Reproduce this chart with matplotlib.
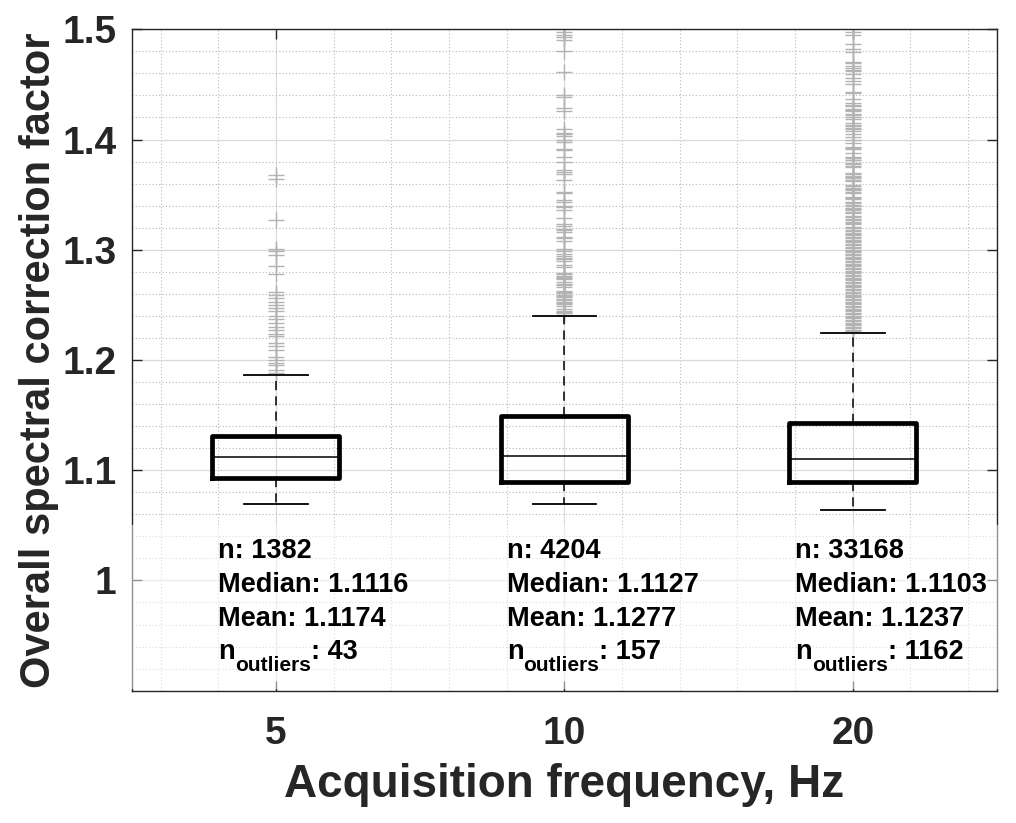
import matplotlib
matplotlib.use("Agg")
import matplotlib.pyplot as plt
from matplotlib.patches import Rectangle
from matplotlib.ticker import MultipleLocator
from matplotlib.transforms import offset_copy

plt.rcParams['font.family'] = ['Liberation Sans', 'DejaVu Sans']
plt.rcParams['font.weight'] = 'bold'

# Box statistics
freq_labels = ['5', '10', '20']
q1 = [1.0933, 1.0894, 1.0894]
q3 = [1.1309, 1.1496, 1.1430]
medians = [1.1116, 1.1127, 1.1103]
whis_lo = [1.0691, 1.0691, 1.0642]
whis_hi = [1.1866, 1.2400, 1.2248]

# Summary text
n_total = [1382, 4204, 33168]
median_txt = ['1.1116', '1.1127', '1.1103']
mean_txt = ['1.1174', '1.1277', '1.1237']
n_outliers = [43, 157, 1162]

# Visible outliers (many overlap, so only distinct marks are listed)
out_5hz = [1.3675, 1.3645, 1.3273, 1.3009, 1.2990, 1.2950, 1.2850, 1.2780,
           1.2620, 1.2590, 1.2560, 1.2530, 1.2500, 1.2470, 1.2440, 1.2400,
           1.2370, 1.2340, 1.2300, 1.2270, 1.2240, 1.2215, 1.2151, 1.2127,
           1.2087, 1.2024, 1.2000, 1.1975, 1.1951, 1.1905, 1.1882]

out_10hz = [1.4972, 1.4951, 1.4927, 1.4903, 1.4800, 1.4612, 1.4406, 1.4382,
            1.4282, 1.4257, 1.4100, 1.4063, 1.4051, 1.4030, 1.4000, 1.3982,
            1.3912, 1.3903, 1.3845, 1.3800, 1.3724, 1.3706, 1.3688, 1.3636,
            1.3521, 1.3515, 1.3448, 1.3430, 1.3400, 1.3388, 1.3363, 1.3288,
            1.3236, 1.3218, 1.3191, 1.3176, 1.3161, 1.3118, 1.3109, 1.3076,
            1.3006, 1.2988, 1.2957, 1.2945, 1.2927, 1.2912, 1.2894, 1.2860,
            1.2839,
            1.2788, 1.2776, 1.2764, 1.2752, 1.2741, 1.2733,
            1.2703, 1.2691, 1.2678, 1.2666,
            1.2630, 1.2618, 1.2605, 1.2593, 1.2580, 1.2568, 1.2555, 1.2543,
            1.2530, 1.2518, 1.2505, 1.2491,
            1.2460, 1.2448, 1.2436, 1.2424, 1.2412]

out_20hz = [1.4972, 1.4951, 1.4863, 1.4818, 1.4794, 1.4706, 1.4691, 1.4669,
            1.4648, 1.4633, 1.4618, 1.4597, 1.4554, 1.4533, 1.4503,
            1.4430, 1.4424, 1.4366, 1.4330, 1.4315, 1.4303,
            1.4279, 1.4270, 1.4260, 1.4236, 1.4221, 1.4203, 1.4188, 1.4154,
            1.4136, 1.4121, 1.4103, 1.4091, 1.4079, 1.4048, 1.4024, 1.4000,
            1.3969, 1.3933, 1.3925, 1.3915, 1.3879,
            1.3842, 1.3830, 1.3818, 1.3812,
            1.3788, 1.3776, 1.3764, 1.3751,
            1.3697, 1.3685, 1.3672, 1.3660, 1.3647, 1.3634, 1.3621,
            1.3588, 1.3576, 1.3564, 1.3551, 1.3539, 1.3527, 1.3515,
            1.3476, 1.3466, 1.3460,
            1.3433, 1.3421, 1.3408, 1.3396, 1.3383, 1.3371, 1.3358, 1.3346, 1.3333,
            1.3306, 1.3293, 1.3281, 1.3268, 1.3256, 1.3243, 1.3230,
            1.3206, 1.3193, 1.3181, 1.3168, 1.3155, 1.3142, 1.3130, 1.3117,
            1.3104, 1.3091, 1.3079, 1.3066, 1.3053, 1.3040, 1.3028, 1.3015,
            1.3002, 1.2989, 1.2977, 1.2964, 1.2951, 1.2938, 1.2926, 1.2913,
            1.2900, 1.2887, 1.2875, 1.2862, 1.2849, 1.2836, 1.2824, 1.2811,
            1.2798, 1.2785, 1.2773, 1.2760, 1.2747, 1.2734, 1.2722, 1.2709,
            1.2696, 1.2683, 1.2671, 1.2658, 1.2645, 1.2632, 1.2620, 1.2607,
            1.2594, 1.2581, 1.2569, 1.2556, 1.2543, 1.2530, 1.2518, 1.2505,
            1.2492, 1.2479, 1.2467, 1.2454, 1.2441, 1.2428, 1.2416, 1.2403,
            1.2390, 1.2377, 1.2365, 1.2352, 1.2339, 1.2326, 1.2314, 1.2301,
            1.2288, 1.2275, 1.2263]

outliers = [out_5hz, out_10hz, out_20hz]

stats = []
for i in range(3):
    stats.append({'q1': q1[i], 'q3': q3[i], 'med': medians[i],
                  'whislo': whis_lo[i], 'whishi': whis_hi[i],
                  'fliers': outliers[i], 'label': freq_labels[i]})

fig = plt.figure(figsize=(10.16, 8.23), dpi=100)
ax = fig.add_axes([0.1296, 0.1608, 0.8517, 0.8036])

ax.bxp(stats, positions=[1, 2, 3], widths=0.44, showfliers=True,
       boxprops=dict(color='black', linewidth=3.4),
       medianprops=dict(color='black', linewidth=1.1),
       whiskerprops=dict(color='black', linewidth=1.1, linestyle=(0, (6, 4))),
       capprops=dict(color='black', linewidth=1.3),
       flierprops=dict(marker='+', markersize=12.2, markeredgecolor='#b3b3b3',
                       markeredgewidth=1.0, linestyle='none', zorder=1.9))

ax.set_xlim(0.5, 3.5)
ax.set_ylim(0.9, 1.5)
ax.set_yticks([1.0, 1.1, 1.2, 1.3, 1.4, 1.5])
ax.set_yticklabels(['1', '1.1', '1.2', '1.3', '1.4', '1.5'])
ax.set_xticks([1, 2, 3])
ax.set_xticklabels(freq_labels)
ax.xaxis.set_minor_locator(MultipleLocator(0.2))
ax.yaxis.set_minor_locator(MultipleLocator(0.02))

ax.set_axisbelow(True)
ax.grid(True, which='major', color='#dadada', linewidth=0.9, linestyle='-')
ax.grid(True, which='minor', color='#b8b8b8', linewidth=0.8, linestyle=(0, (1, 2)))

ax.tick_params(which='major', direction='in', length=7, width=1.0,
               top=True, right=True, labelsize=28, colors='#262626', pad=11)
ax.tick_params(axis='x', which='major', pad=18)
ax.tick_params(which='minor', length=0)
for sp in ax.spines.values():
    sp.set_color('#262626')
    sp.set_linewidth(1.0)

ax.set_xlabel('Acquisition frequency, Hz', fontsize=33, fontweight='bold',
              color='#262626', labelpad=8)
ax.set_ylabel('Overall spectral correction factor', fontsize=30, fontweight='bold',
              color='#262626', labelpad=2)

# translucent white band behind the summary text
ax.add_patch(Rectangle((-0.003, 0.002), 1.006, 0.2488, transform=ax.transAxes,
                       facecolor='white', alpha=0.5, edgecolor='none',
                       zorder=2.6, clip_on=False))

renderer = fig.canvas.get_renderer()
for i, pos in enumerate([1, 2, 3]):
    x = pos - 0.2
    ax.text(x, 1.0205, 'n: %d' % n_total[i], fontsize=19.5, color='black', zorder=4)
    ax.text(x, 0.9897, 'Median: ' + median_txt[i], fontsize=19.5, color='black', zorder=4)
    ax.text(x, 0.9588, 'Mean: ' + mean_txt[i], fontsize=19.5, color='black', zorder=4)
    # n with subscript "outliers", built from pieces
    t1 = ax.text(x, 0.9285, 'n', fontsize=19.5, color='black', zorder=4)
    w1 = t1.get_window_extent(renderer).width * 72.0 / fig.dpi
    tr = offset_copy(ax.transData, fig=fig, x=w1, y=-8.5, units='points')
    t2 = ax.text(x, 0.9285, 'outliers', fontsize=15, color='black', zorder=4,
                 transform=tr)
    w2 = t2.get_window_extent(renderer).width * 72.0 / fig.dpi
    tr2 = offset_copy(ax.transData, fig=fig, x=w1 + w2, y=0, units='points')
    ax.text(x, 0.9285, ': %d' % n_outliers[i], fontsize=19.5, color='black',
            zorder=4, transform=tr2)

fig.savefig('out.png', dpi=100)
